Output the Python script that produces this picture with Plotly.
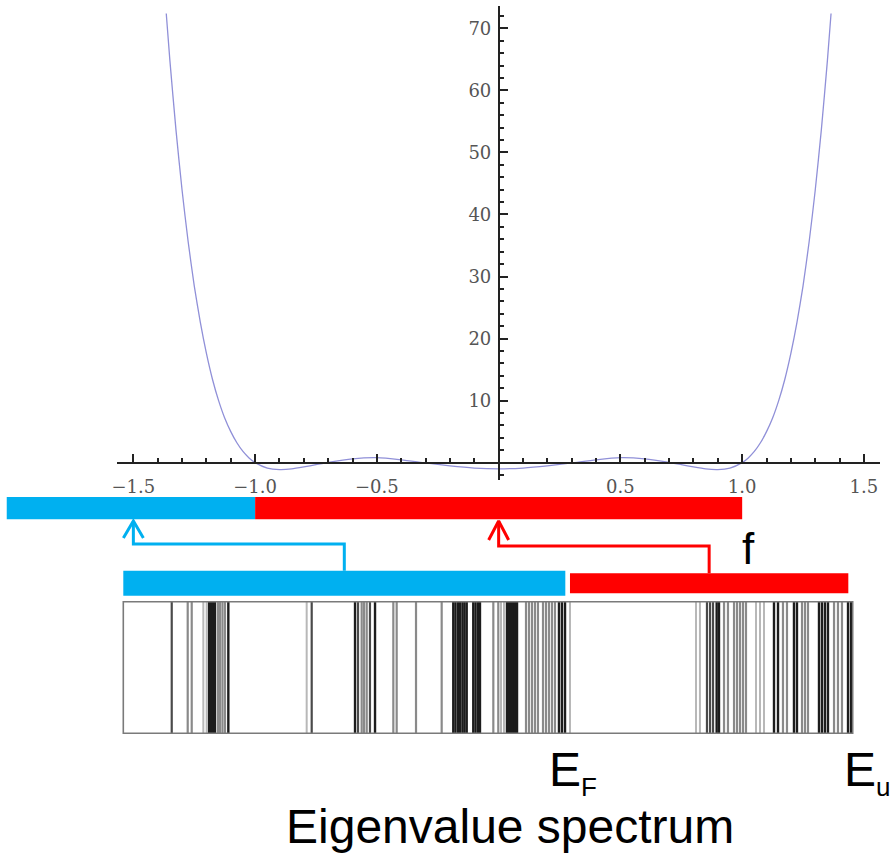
import plotly.graph_objects as go

W, H = 891, 860

# ---- polynomial curve f(x) ----
curve_x = [-1.365, -1.35, -1.325, -1.3, -1.275, -1.25, -1.225, -1.2, -1.175, -1.15,
           -1.125, -1.1, -1.075, -1.05, -1.025, -1.0, -0.95, -0.9, -0.85, -0.8,
           -0.75, -0.7, -0.6, -0.5, -0.4, -0.3, -0.2, -0.1, 0.0,
           0.1, 0.2, 0.3, 0.4, 0.5, 0.6, 0.7, 0.75, 0.8, 0.85, 0.9, 0.95, 1.0,
           1.025, 1.05, 1.075, 1.1, 1.125, 1.15, 1.175, 1.2, 1.225, 1.25, 1.275,
           1.3, 1.325, 1.35, 1.365]
curve_y = [72.4, 64.8, 53.6, 43.9, 35.6, 28.5, 22.6, 17.6, 13.4, 10.0,
           7.2, 5.0, 3.2, 1.8, 0.76, 0.0, -0.87, -1.13, -1.02, -0.70,
           -0.32, 0.05, 0.62, 0.80, 0.45, -0.05, -0.52, -0.87, -1.0,
           -0.87, -0.52, -0.05, 0.45, 0.80, 0.62, 0.05, -0.32, -0.70, -1.02, -1.13, -0.87, 0.0,
           0.76, 1.8, 3.2, 5.0, 7.2, 10.0, 13.4, 17.6, 22.6, 28.5, 35.6,
           43.9, 53.6, 64.8, 72.4]

x_tickvals = [-1.5, -1.0, -0.5, 0.5, 1.0, 1.5]
x_ticktext = ["\u22121.5", "\u22121.0", "\u22120.5", "0.5", "1.0", "1.5"]
y_tickvals = [10, 20, 30, 40, 50, 60, 70]
y_ticktext = ["10", "20", "30", "40", "50", "60", "70"]

# ---- eigenvalue spectrum (normalised: 0 = lowest, 1 = E_u) ----
eigenvalues = [0.0664, 0.0883, 0.0938, 0.1097, 0.1143, 0.1175, 0.1202, 0.1230, 0.1257,
               0.1298, 0.1326, 0.1360, 0.1394, 0.1440, 0.2514, 0.2583,
               0.3177, 0.3218, 0.3268, 0.3300, 0.3337, 0.3382, 0.3451, 0.3702, 0.3748,
               0.4013, 0.4365, 0.4524, 0.4554, 0.4589, 0.4616, 0.4650, 0.4678, 0.4708,
               0.4798, 0.4829, 0.4863, 0.4890, 0.5073, 0.5141, 0.5178, 0.5219,
               0.5260, 0.5288, 0.5315, 0.5343, 0.5370, 0.5398,
               0.5521, 0.5562, 0.5603, 0.5644, 0.5685, 0.5754, 0.5795, 0.5836, 0.5877, 0.5918,
               0.5973, 0.6014, 0.6056, 0.6124,
               0.7852, 0.7906, 0.8002, 0.8044, 0.8085, 0.8135, 0.8167, 0.8236, 0.8290,
               0.8373, 0.8414, 0.8455, 0.8496, 0.8537, 0.8674, 0.8729, 0.8784,
               0.8921, 0.8976, 0.9044, 0.9099, 0.9195, 0.9236, 0.9305, 0.9346, 0.9387,
               0.9538, 0.9579, 0.9620, 0.9661, 0.9744, 0.9798, 0.9853, 0.9936, 0.9977]
shades = ["m", "g", "g", "l", "l", "d", "d", "d", "d",
          "g", "g", "g", "g", "d", "l", "m",
          "d", "m", "g", "g", "g", "m", "d", "g", "g",
          "g", "g", "d", "d", "d", "d", "d", "d", "d",
          "d", "d", "d", "d", "g", "g", "l", "l",
          "d", "d", "d", "d", "d", "d",
          "g", "g", "g", "g", "g", "g", "g", "g", "g", "g",
          "d", "d", "d", "l",
          "l", "l", "m", "m", "m", "d", "d", "g", "g",
          "g", "g", "g", "g", "g", "l", "l", "l",
          "d", "d", "g", "g", "d", "d", "g", "g", "g",
          "d", "d", "d", "d", "g", "g", "g", "d", "d"]

E_F = 0.6097
# bars (curve units on top, spectrum units below)
top_blue = (-2.02, -1.0)
top_red = (-1.0, 1.0)
low_blue = (0.0, 0.606)
low_red = (0.6124, 0.994)
arrow_targets = (-1.5, 0.0)

BLUE = "#00B0F0"
RED = "#FF0000"

# ---- axes geometry ----
x_range = [-1.566, 1.566]
y_range = [-2.8, 73.6]
x_dom = [117.3 / W, 880.0 / W]
y_dom = [1 - 480.0 / H, 1 - 6.0 / H]
x_axis_pos = y_dom[0] + (0 - y_range[0]) / (y_range[1] - y_range[0]) * (y_dom[1] - y_dom[0])
y_axis_pos = x_dom[0] + (0 - x_range[0]) / (x_range[1] - x_range[0]) * (x_dom[1] - x_dom[0])

# full-width overlay axes: curve units (x2) and spectrum units (x3), pixel-like y2
px_per_unit = (880.0 - 117.3) / (x_range[1] - x_range[0])
x0_px = 117.3 - x_range[0] * px_per_unit
x2_range = [(0 - x0_px) / px_per_unit, (W - x0_px) / px_per_unit]
spec_left, spec_right = 123.3, 852.7
spec_scale = spec_right - spec_left
x3_range = [(0 - spec_left) / spec_scale, (W - spec_left) / spec_scale]


def spec_to_curve(u):
    px = spec_left + u * spec_scale
    return (px - x0_px) / px_per_unit


fig = go.Figure()

fig.add_trace(go.Scatter(x=curve_x, y=curve_y, mode="lines",
                         line=dict(color="#9090d8", width=1.3, shape="spline", smoothing=0.6),
                         xaxis="x", yaxis="y", hoverinfo="skip"))

# spectrum lines
styles = {"d": ("#1c1c1c", 2.4), "m": ("#4a4a4a", 2.2), "g": ("#8a8a8a", 2.2), "l": ("#b8b8b8", 2.0)}
for key, (col, wid) in styles.items():
    xs, ys = [], []
    for e, s in zip(eigenvalues, shades):
        if s == key:
            xs += [e, e, None]
            ys += [602, 733, None]
    fig.add_trace(go.Scatter(x=xs, y=ys, mode="lines", line=dict(color=col, width=wid),
                             xaxis="x3", yaxis="y2", hoverinfo="skip"))

# arrows (from bar middles to targets)
for (lo, tgt, col, ybase, ymid, ywing) in [(low_blue, arrow_targets[0], BLUE, 570.7, 544, 538),
                                           (low_red, arrow_targets[1], RED, 573.3, 546, 540)]:
    src = spec_to_curve((lo[0] + lo[1]) / 2)
    fig.add_trace(go.Scatter(x=[src, src, tgt, tgt], y=[ybase, ymid, ymid, 521], mode="lines",
                             line=dict(color=col, width=3), xaxis="x2", yaxis="y2", hoverinfo="skip"))
    dw = 10 / px_per_unit
    fig.add_trace(go.Scatter(x=[tgt - dw, tgt, tgt + dw], y=[ywing, 521, ywing], mode="lines",
                             line=dict(color=col, width=3), xaxis="x2", yaxis="y2", hoverinfo="skip"))

shapes = [
    dict(type="rect", xref="x2", yref="y2", x0=top_blue[0], x1=top_blue[1], y0=497, y1=519.3, fillcolor=BLUE, line_width=0),
    dict(type="rect", xref="x2", yref="y2", x0=top_red[0], x1=top_red[1], y0=497, y1=519.3, fillcolor=RED, line_width=0),
    dict(type="rect", xref="x3", yref="y2", x0=low_blue[0], x1=low_blue[1], y0=570.7, y1=595.7, fillcolor=BLUE, line_width=0),
    dict(type="rect", xref="x3", yref="y2", x0=low_red[0], x1=low_red[1], y0=573.3, y1=593.3, fillcolor=RED, line_width=0),
    dict(type="rect", xref="x3", yref="y2", x0=0, x1=1, y0=601.7, y1=733.3, line=dict(color="#7a7a7a", width=1.6)),
]

font_main = "Liberation Sans, Arial, sans-serif"
sub = '<sub><span style="font-size:26px">{}</span></sub>'
annotations = [
    dict(text="f", x=748 / W, y=1 - 548 / H, xref="paper", yref="paper", showarrow=False,
         font=dict(family=font_main, size=44, color="black"), xanchor="center", yanchor="middle"),
    dict(text="E" + sub.format("F"), x=547 / W, y=1 - 772 / H, xref="paper", yref="paper", showarrow=False,
         font=dict(family=font_main, size=48, color="black"), xanchor="left", yanchor="middle"),
    dict(text="E" + sub.format("u"), x=842 / W, y=1 - 772 / H, xref="paper", yref="paper", showarrow=False,
         font=dict(family=font_main, size=48, color="black"), xanchor="left", yanchor="middle"),
    dict(text="Eigenvalue spectrum", x=510 / W, y=1 - 826 / H, xref="paper", yref="paper", showarrow=False,
         font=dict(family=font_main, size=48, color="black"), xanchor="center", yanchor="middle"),
]

tick_font = dict(family="DejaVu Serif", size=18, color="#555")
fig.update_layout(
    width=W, height=H, margin=dict(l=0, r=0, t=0, b=0, autoexpand=False),
    paper_bgcolor="white", plot_bgcolor="rgba(0,0,0,0)", showlegend=False,
    xaxis=dict(domain=x_dom, range=x_range, anchor="free", position=x_axis_pos, showline=True,
               linecolor="#222", linewidth=1.5, showgrid=False, zeroline=False, automargin=False,
               tickvals=x_tickvals, ticktext=x_ticktext, ticks="inside", ticklen=8, tickwidth=1.5,
               tickcolor="#222", tickfont=tick_font, ticklabelstandoff=8,
               minor=dict(dtick=0.1, tick0=0, ticks="inside", ticklen=4, tickwidth=1.5, tickcolor="#222", showgrid=False)),
    yaxis=dict(domain=y_dom, range=y_range, anchor="free", position=y_axis_pos, showline=True,
               linecolor="#222", linewidth=1.5, showgrid=False, zeroline=False, automargin=False,
               tickvals=y_tickvals, ticktext=y_ticktext, ticks="inside", ticklen=9, tickwidth=1.5,
               tickcolor="#222", tickfont=tick_font, ticklabelstandoff=3,
               minor=dict(dtick=2, tick0=0, ticks="inside", ticklen=5, tickwidth=1.5, tickcolor="#222", showgrid=False)),
    xaxis2=dict(domain=[0, 1], range=x2_range, anchor="y2", visible=False, fixedrange=True, automargin=False),
    xaxis3=dict(domain=[0, 1], range=x3_range, anchor="y2", visible=False, fixedrange=True, overlaying="x2", automargin=False),
    yaxis2=dict(domain=[0, 1], range=[H, 0], anchor="x2", visible=False, fixedrange=True, automargin=False),
    shapes=shapes, annotations=annotations,
)

fig.write_html("out.html")
